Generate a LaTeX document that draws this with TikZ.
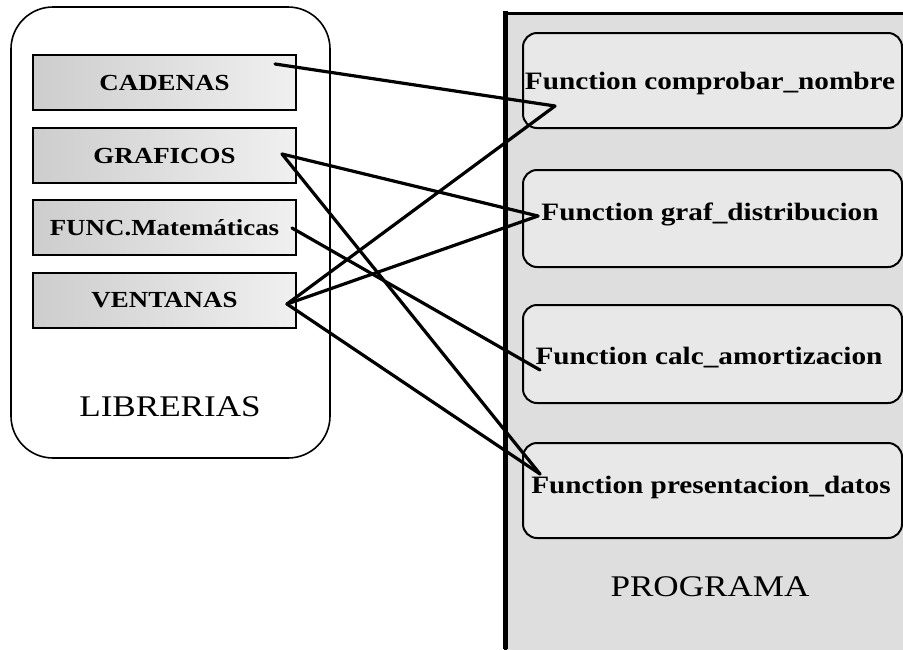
\documentclass[tikz,border=0pt]{standalone}
\usepackage{fontspec}
\setmainfont{Liberation Serif}
\newfontfamily\labelfont[FakeStretch=1.17]{Liberation Serif}
\usetikzlibrary{calc}
\definecolor{progfill}{HTML}{DEDEDE}
\definecolor{funcfill}{HTML}{E8E8E8}
\definecolor{libdark}{HTML}{CDCDCD}
\definecolor{liblight}{HTML}{F0F0F0}
\tikzset{
  libbox/.style={draw=black, line width=2.6pt, left color=libdark, right color=liblight,
    minimum width=263pt, minimum height=55pt, inner sep=0pt,
    font=\labelfont\bfseries\fontsize{23}{26}\selectfont},
  funcbox/.style={draw=black, line width=2pt, rounded corners=14pt, fill=funcfill,
    minimum width=379pt, inner sep=0pt},
  functext/.style={inner sep=0pt, font=\labelfont\bfseries\fontsize{25}{28}\selectfont},
  title/.style={inner sep=0pt, font=\labelfont\fontsize{30}{34}\selectfont},
  link/.style={line width=3.2pt, line cap=round, line join=round},
}
\begin{document}
\begin{tikzpicture}[x=1pt,y=-1pt]
  \useasboundingbox (0,0) rectangle (903,649);
  \clip (0,0) rectangle (903,649);

  % library container
  \draw[line width=1.6pt, rounded corners=42pt, fill=white] (11,7) rectangle (330,458);
  \node[libbox] (cad)  at (164.5,82.5)  {CADENAS};
  \node[libbox] (graf) at (164.5,155.5) {GRAFICOS};
  \node[libbox] (func) at (164.5,227.5) {FUNC.Matemáticas};
  \node[libbox] (vent) at (164.5,300.5) {VENTANAS};
  \node[title] (lib) at (170,407) {LIBRERIAS};

  % program container
  \draw[line width=3pt, fill=progfill] (505,13) rectangle (930,670);
  \draw[line width=5pt] (505,11) -- (505,649);
  \node[funcbox, minimum height=95pt] (fb1) at (712.5,80.5) {};
  \node[funcbox, minimum height=97pt] (fb2) at (712.5,218.5) {};
  \node[funcbox, minimum height=98pt] (fb3) at (712.5,354) {};
  \node[funcbox, minimum height=95pt] (fb4) at (712.5,490.5) {};
  \node[functext] (f1) at (710,83)  {Function comprobar\_nombre};
  \node[functext] (f2) at (710,214) {Function graf\_distribucion};
  \node[functext] (f3) at (709,358) {Function calc\_amortizacion};
  \node[functext] (f4) at (711,487) {Function presentacion\_datos};
  \node[title] (prog) at (710,587) {PROGRAMA};

  % link end points
  \coordinate (cadR)  at (275,64);
  \coordinate (grafR) at (282,154);
  \coordinate (funcR) at (292,228);
  \coordinate (ventR) at (287,304);
  \coordinate (compL) at (555,106);
  \coordinate (distL) at (538,216);
  \coordinate (calcL) at (540,370);
  \coordinate (presL) at (540,474);

  % library usage links
  \draw[link] (cadR)  -- (compL);
  \draw[link] (ventR) -- (compL);
  \draw[link] (grafR) -- (distL);
  \draw[link] (ventR) -- (distL);
  \draw[link] (funcR) -- (calcL);
  \draw[link] (grafR) -- (presL);
  \draw[link] (ventR) -- (presL);
\end{tikzpicture}
\end{document}
